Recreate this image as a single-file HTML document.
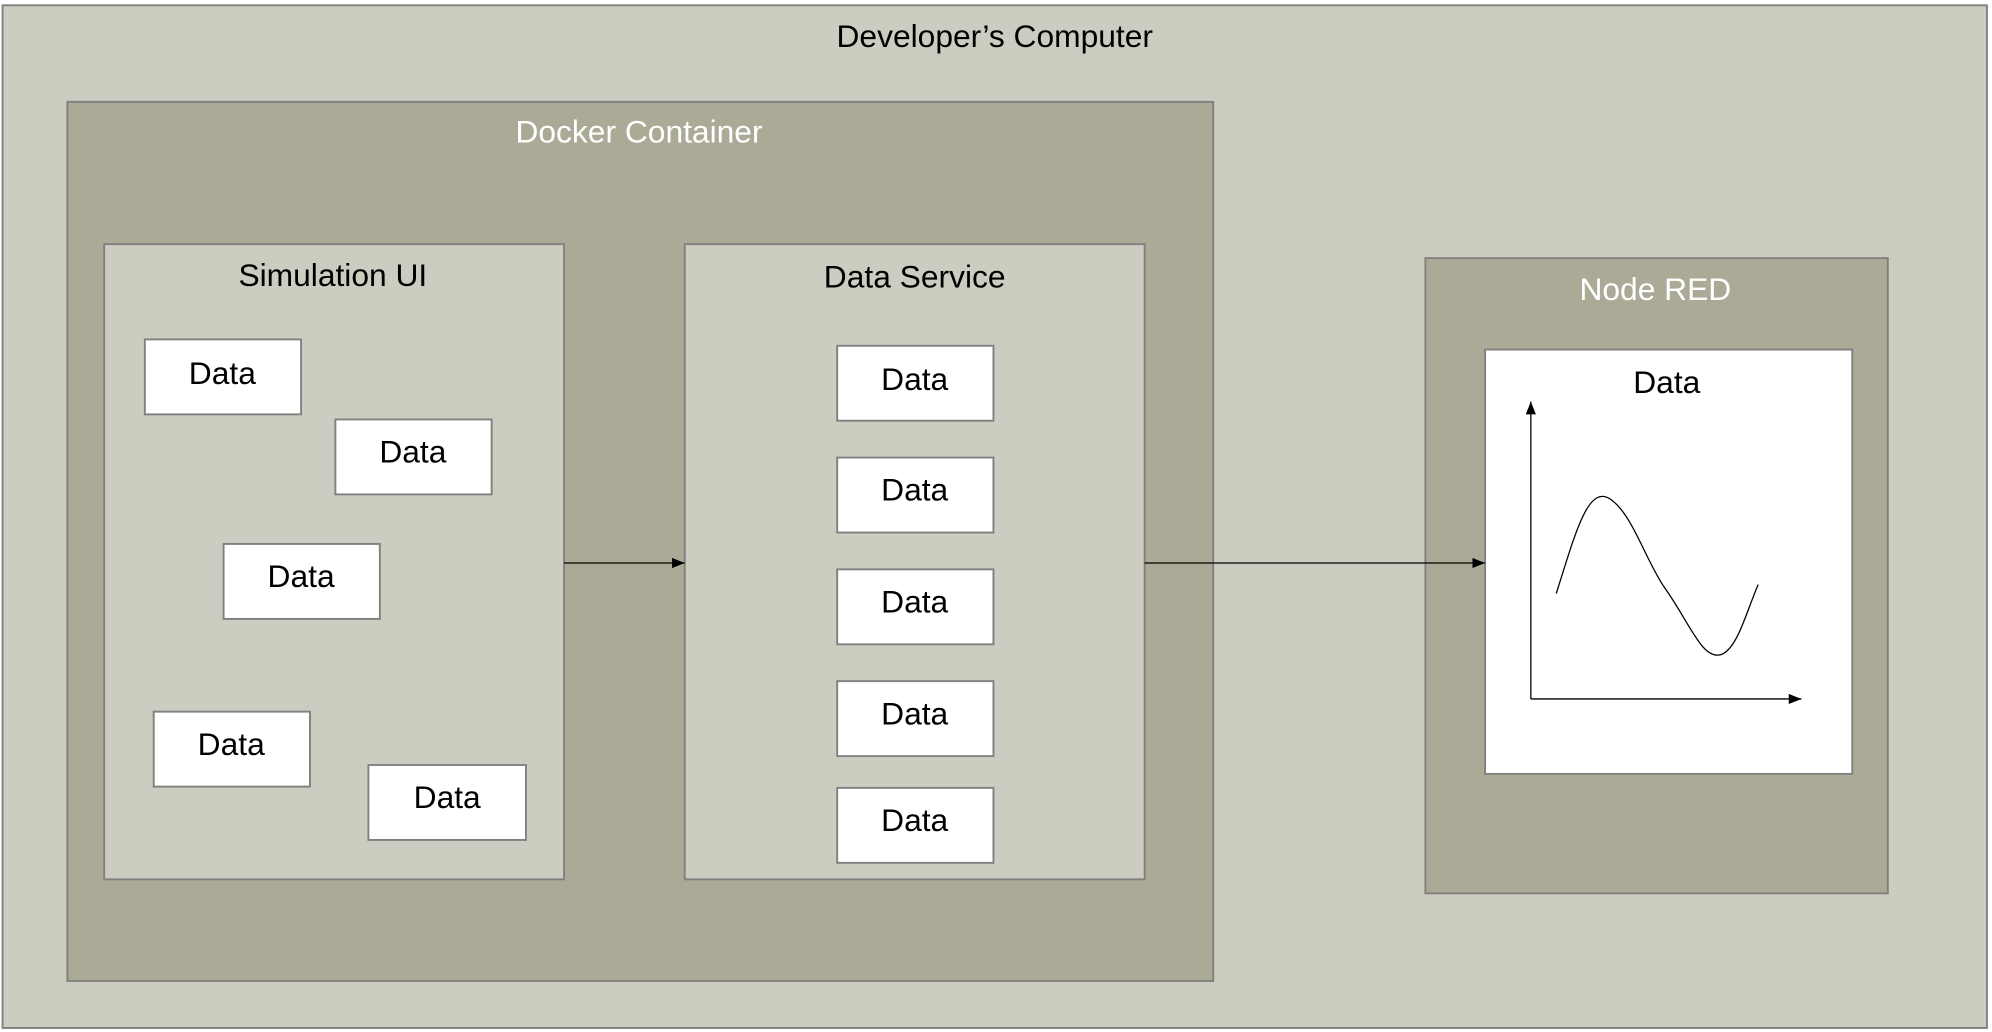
<!DOCTYPE html>
<html><head><meta charset="utf-8"><style>html,body{margin:0;padding:0;background:#fff}svg{display:block}</style></head>
<body>
<svg width="1992" height="1032" viewBox="0 0 1568 812" xmlns="http://www.w3.org/2000/svg" font-family="Liberation Sans, sans-serif">
<defs><marker id="a" markerWidth="10" markerHeight="8" refX="10" refY="4" orient="auto" markerUnits="userSpaceOnUse"><path d="M0,0L10,4L0,8z" fill="#000"/></marker></defs>
<rect x="2" y="4" width="1562" height="805" fill="#cccdc0" stroke="#808080" stroke-width="1.5"/>
<text x="783" y="37" font-size="25" text-anchor="middle" fill="#000">Developer’s Computer</text>
<rect x="53" y="80" width="902" height="692" fill="#aaaa96" stroke="#808080" stroke-width="1.5"/>
<text x="503" y="112" font-size="25" text-anchor="middle" fill="#fff">Docker Container</text>
<rect x="82" y="192" width="362" height="500" fill="#cccdc0" stroke="#808080" stroke-width="1.5"/>
<text x="262" y="225" font-size="25" text-anchor="middle">Simulation UI</text>
<rect x="539" y="192" width="362" height="500" fill="#cccdc0" stroke="#808080" stroke-width="1.5"/>
<text x="720" y="226" font-size="25" text-anchor="middle">Data Service</text>
<rect x="1122" y="203" width="364" height="500" fill="#aaaa96" stroke="#808080" stroke-width="1.5"/>
<text x="1303" y="236" font-size="25" text-anchor="middle" fill="#fff">Node RED</text>
<rect x="1169" y="275" width="289" height="334" fill="#fff" stroke="#808080" stroke-width="1.5"/>
<text x="1312" y="309" font-size="25" text-anchor="middle">Data</text>
<g fill="#fff" stroke="#808080" stroke-width="1.5">
<rect x="114" y="267" width="123" height="59"/>
<rect x="264" y="330" width="123" height="59"/>
<rect x="176" y="428" width="123" height="59"/>
<rect x="121" y="560" width="123" height="59"/>
<rect x="290" y="602" width="124" height="59"/>
<rect x="659" y="272" width="123" height="59"/>
<rect x="659" y="360" width="123" height="59"/>
<rect x="659" y="448" width="123" height="59"/>
<rect x="659" y="536" width="123" height="59"/>
<rect x="659" y="620" width="123" height="59"/>
</g>
<g font-size="25" text-anchor="middle">
<text x="175" y="302">Data</text>
<text x="325" y="364">Data</text>
<text x="237" y="462">Data</text>
<text x="182" y="594">Data</text>
<text x="352" y="636">Data</text>
<text x="720" y="307">Data</text>
<text x="720" y="394">Data</text>
<text x="720" y="482">Data</text>
<text x="720" y="570">Data</text>
<text x="720" y="654">Data</text>
</g>
<g stroke="#000" stroke-width="1" fill="none">
<line x1="444" y1="443" x2="539" y2="443" marker-end="url(#a)"/>
<line x1="901" y1="443" x2="1169" y2="443" marker-end="url(#a)"/>
<line x1="1205" y1="550" x2="1205" y2="316" marker-end="url(#a)"/>
<line x1="1205" y1="550" x2="1418" y2="550" marker-end="url(#a)"/>
<path d="M1225,467 C1240,420 1250,380 1268,393 C1285,405 1295,440 1310,462 C1330,490 1340,520 1355,515 C1368,510 1375,480 1384,460"/>
</g>
</svg>
</body></html>
